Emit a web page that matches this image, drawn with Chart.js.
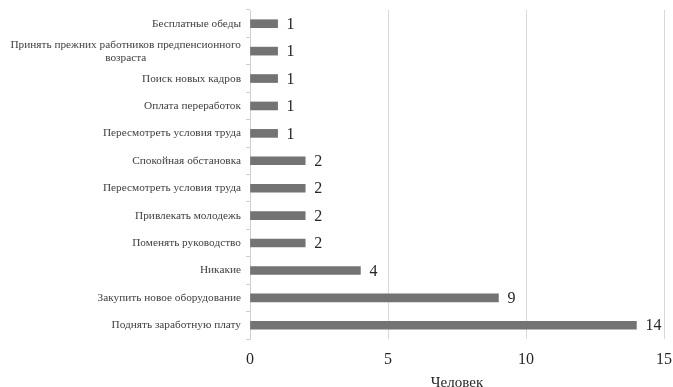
<!DOCTYPE html>
<html>
<head>
<meta charset="utf-8">
<script src="https://cdn.jsdelivr.net/npm/chart.js@4/dist/chart.umd.min.js"></script>
<style>
  html, body { margin: 0; padding: 0; background: #ffffff; }
  #wrap { width: 673px; height: 387px; }
</style>
</head>
<body>
<div id="wrap"><canvas id="chart" width="673" height="387"></canvas></div>
<script>
// Answers, listed top to bottom
const categories = [
  'Бесплатные обеды',
  ['Принять прежних работников предпенсионного', 'возраста'],
  'Поиск новых кадров',
  'Оплата переработок',
  'Пересмотреть условия труда',
  'Спокойная обстановка',
  'Пересмотреть условия труда',
  'Привлекать молодежь',
  'Поменять руководство',
  'Никакие',
  'Закупить новое оборудование',
  'Поднять заработную плату'
];
// Number of respondents per answer
const respondents = [1, 1, 1, 1, 1, 2, 2, 2, 2, 4, 9, 14];
const xTicks = [0, 5, 10, 15];
const axisTitle = 'Человек';

const SERIF = '"Liberation Serif", "Times New Roman", serif';

// Category labels: single lines right-aligned, wrapped labels centred on their block
const categoryLabels = {
  id: 'categoryLabels',
  afterDraw(chart) {
    const ctx = chart.ctx;
    const y = chart.scales.y;
    const right = chart.chartArea.left - 9;
    ctx.save();
    ctx.font = '11.3px ' + SERIF;
    ctx.fillStyle = '#404040';
    ctx.textBaseline = 'middle';
    const lh = 13;
    categories.forEach((lab, i) => {
      const cy = y.getPixelForTick(i);
      if (Array.isArray(lab)) {
        const w = Math.max(...lab.map(s => ctx.measureText(s).width));
        const cx = right - w / 2;
        ctx.textAlign = 'center';
        const top = cy - (lab.length - 1) * lh / 2;
        lab.forEach((s, k) => ctx.fillText(s, cx, top + k * lh));
      } else {
        ctx.textAlign = 'right';
        ctx.fillText(lab, right, cy);
      }
    });
    ctx.restore();
  }
};

// Value printed just past the end of each bar
const valueLabels = {
  id: 'valueLabels',
  afterDatasetsDraw(chart) {
    const ctx = chart.ctx;
    const meta = chart.getDatasetMeta(0);
    ctx.save();
    ctx.font = '16px ' + SERIF;
    ctx.fillStyle = '#262626';
    ctx.textAlign = 'left';
    ctx.textBaseline = 'middle';
    meta.data.forEach((bar, i) => {
      ctx.fillText(String(respondents[i]), bar.x + 9, bar.y + 1);
    });
    ctx.restore();
  }
};

new Chart(document.getElementById('chart'), {
  type: 'bar',
  data: {
    labels: categories,
    datasets: [{
      data: respondents,
      backgroundColor: '#737373',
      borderWidth: 0,
      barThickness: 8
    }]
  },
  options: {
    indexAxis: 'y',
    responsive: false,
    animation: false,
    layout: { padding: { top: 10, right: 0, left: 0, bottom: 0 } },
    plugins: {
      legend: { display: false },
      tooltip: { enabled: false }
    },
    scales: {
      x: {
        min: 0,
        max: 15,
        afterBuildTicks(scale) { scale.ticks = xTicks.map(v => ({ value: v })); },
        afterFit(scale) {
          scale.height = 48;
          scale.paddingLeft = 0;
          scale.paddingRight = 9;
        },
        grid: {
          color: (c) => c.tick && c.tick.value === 0 ? 'rgba(0,0,0,0)' : '#d9d9d9',
          drawTicks: false,
          lineWidth: 1
        },
        border: { display: false },
        ticks: {
          padding: 11,
          color: '#262626',
          font: { family: SERIF, size: 16 }
        },
        title: {
          display: true,
          text: axisTitle,
          color: '#262626',
          font: { family: SERIF, size: 15, lineHeight: 1 },
          padding: { top: 2, bottom: -4 }
        }
      },
      y: {
        afterFit(scale) { scale.width = 250; },
        grid: {
          offset: true,
          drawOnChartArea: false,
          drawTicks: true,
          tickLength: 4,
          color: '#d0d0d0'
        },
        border: { display: true, color: '#d0d0d0', width: 1 },
        ticks: { display: false }
      }
    }
  },
  plugins: [categoryLabels, valueLabels]
});
</script>
</body>
</html>
